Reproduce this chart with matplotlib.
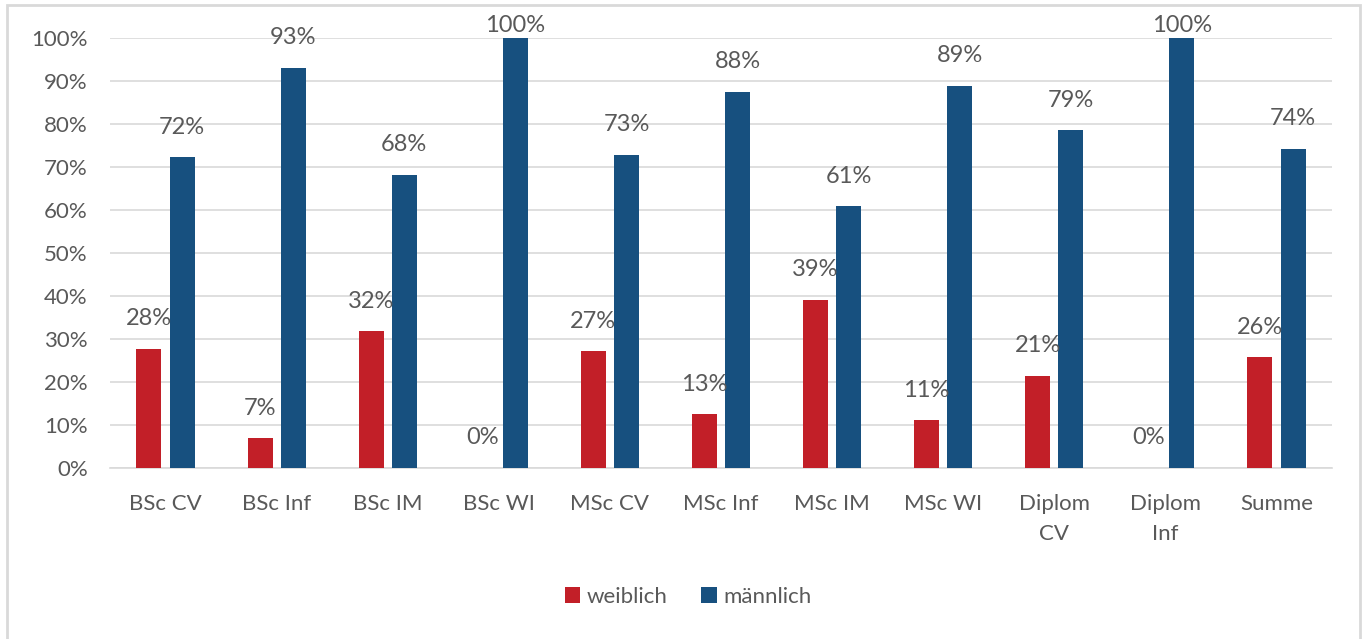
import numpy as np
import matplotlib
matplotlib.use('Agg')
import matplotlib.pyplot as plt
from matplotlib.patches import Rectangle

plt.rcParams['font.family'] = ['Lato', 'DejaVu Sans']

# data (percent)
kategorien = ['BSc CV', 'BSc Inf', 'BSc IM', 'BSc WI', 'MSc CV', 'MSc Inf',
              'MSc IM', 'MSc WI', 'Diplom\nCV', 'Diplom\nInf', 'Summe']
weiblich = [27.7, 6.9, 31.8, 0, 27.2, 12.5, 39.1, 11.1, 21.4, 0, 25.7]
maennlich = [72.3, 93.1, 68.2, 100, 72.8, 87.5, 60.9, 88.9, 78.6, 100, 74.3]

rot = '#c21f28'
blau = '#17507f'
grau = '#595959'

fig = plt.figure(figsize=(13.64, 6.39), dpi=100)
ax = fig.add_axes([110/1364, 1-468/639, 1222/1364, 430/639])

x = np.arange(len(kategorien))
w = 0.225
off = 0.149
b1 = ax.bar(x - off, weiblich, w, color=rot, label='weiblich', zorder=3)
b2 = ax.bar(x + off, maennlich, w, color=blau, label='männlich', zorder=3)

# labels sit ~30 px above the bar, but stay inside the chart at the top
for bars, vals in ((b1, weiblich), (b2, maennlich)):
    for r, v in zip(bars, vals):
        top_px = 4.3 * (100 - v)
        dy = 30 if top_px >= 17 else 13
        ax.annotate('%d%%' % int(v + 0.5), (r.get_x() + r.get_width()/2, v),
                    xytext=(0, dy), textcoords='offset pixels', ha='center',
                    va='center', fontsize=17, color=grau, zorder=4,
                    annotation_clip=False)

ax.set_xlim(-0.5, len(kategorien) - 0.5)
ax.set_ylim(0, 100)
ax.set_yticks(np.arange(0, 101, 10))
ax.set_yticklabels(['%d%%' % t for t in range(0, 101, 10)])
ax.set_xticks(x)
ax.set_xticklabels(kategorien, linespacing=1.6)
ax.tick_params(length=0, labelsize=16, labelcolor=grau)
ax.tick_params(axis='x', pad=19)
ax.tick_params(axis='y', pad=16)
ax.grid(axis='y', color='#d9d9d9', lw=1.2, zorder=0)
for s in ('top', 'right', 'left'):
    ax.spines[s].set_visible(False)
ax.spines['bottom'].set_color('#d9d9d9')
ax.spines['bottom'].set_linewidth(1.2)

leg = fig.legend(loc='center', bbox_to_anchor=(688/1364, 1-597/639), ncol=2,
                 frameon=False, fontsize=16, handlelength=0.7, handleheight=0.7,
                 handletextpad=0.3, columnspacing=1.5)
for t in leg.get_texts():
    t.set_color(grau)

fig.patches.append(Rectangle((7/1364, -0.02), 1353/1364, 1.02 - 5/639,
                             transform=fig.transFigure, fill=False,
                             edgecolor='#d9d9d9', lw=2))

fig.savefig('out.png', dpi=100)
